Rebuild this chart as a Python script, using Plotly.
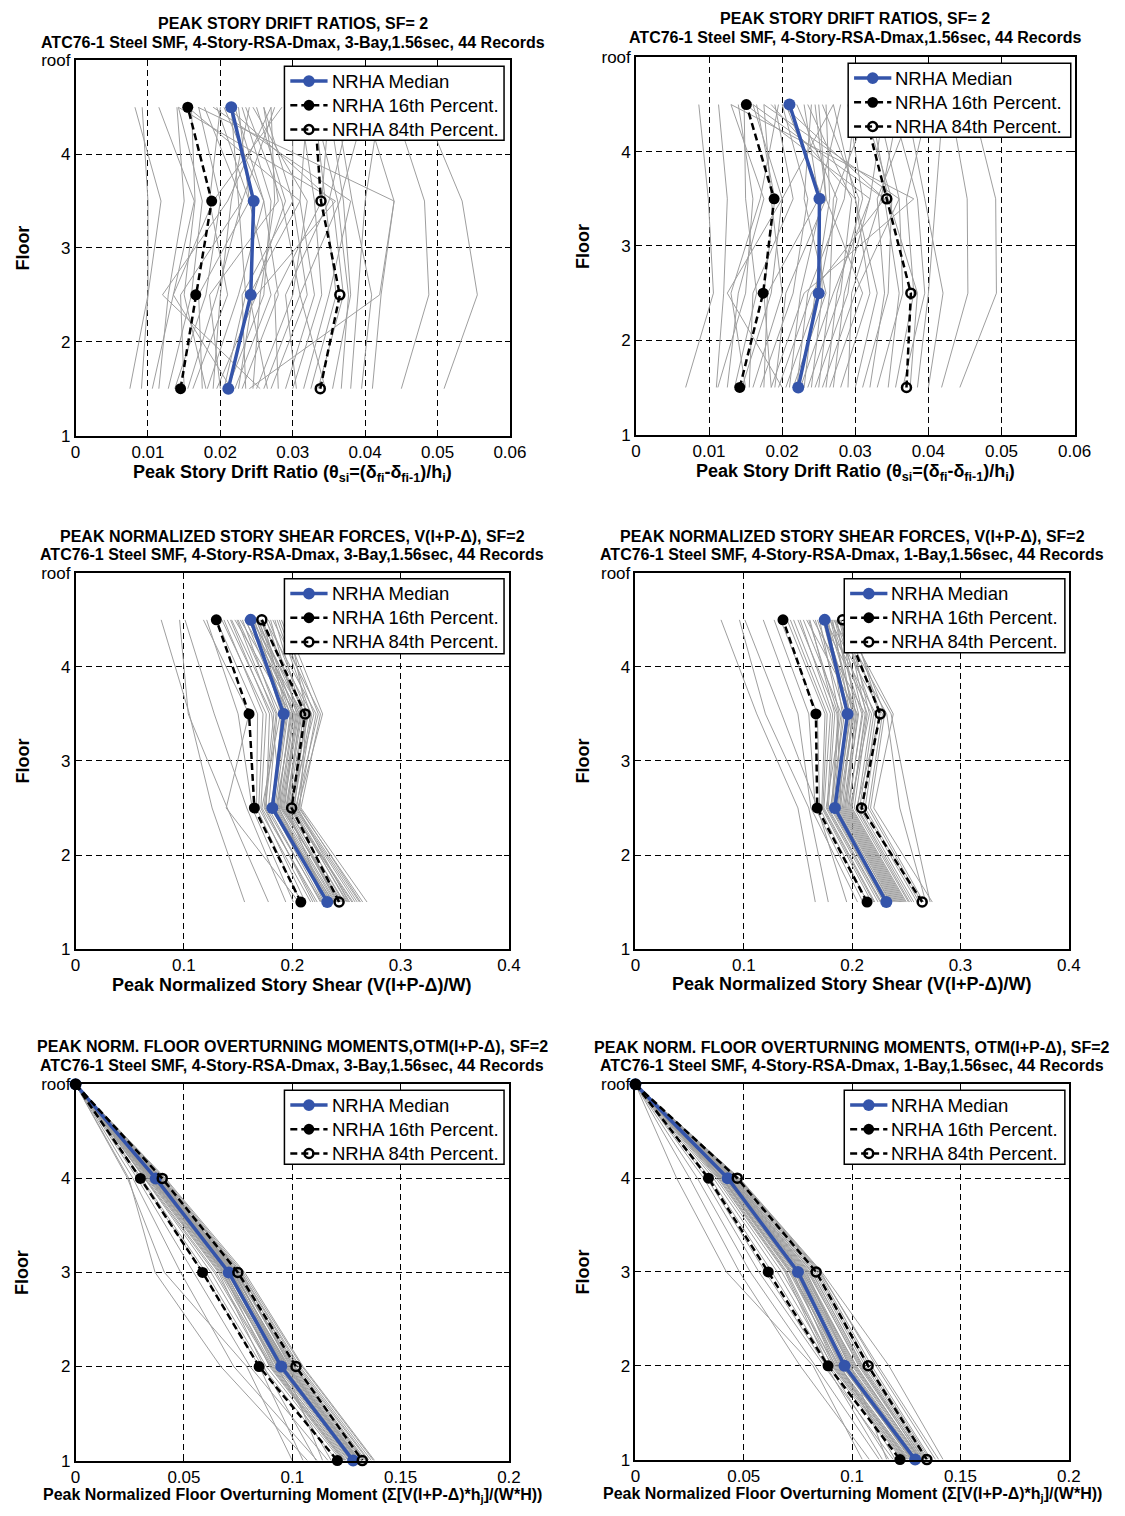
import plotly.graph_objects as go

W, H = 1125, 1516

# ---------------- data ----------------
STORY_MID = [1.5, 2.5, 3.5, 4.5]          # story drift / shear plotted at mid-story
FLOOR_LEVEL = [5, 4, 3, 2, 1]              # overturning moment at floor levels (5 = roof)
FLOOR_TICKS = [1, 2, 3, 4, 5]
FLOOR_LABELS = ["1", "2", "3", "4", "roof"]
SERIES_NAMES = ["NRHA Median", "NRHA 16th Percent.", "NRHA 84th Percent."]

# Peak story drift ratios, 3-bay frame (story 1..4)
drift_3bay_records = [
    [0.0075, 0.0100, 0.0118, 0.0082], [0.0091, 0.0100, 0.0100, 0.0092],
    [0.0106, 0.0135, 0.0164, 0.0115], [0.0115, 0.0128, 0.0150, 0.0140],
    [0.0128, 0.0160, 0.0175, 0.0142], [0.0137, 0.0180, 0.0200, 0.0170],
    [0.0150, 0.0145, 0.0230, 0.0275], [0.0155, 0.0195, 0.0230, 0.0178],
    [0.0162, 0.0210, 0.0185, 0.0200], [0.0175, 0.0170, 0.0240, 0.0225],
    [0.0182, 0.0225, 0.0260, 0.0205], [0.0190, 0.0200, 0.0215, 0.0240],
    [0.0195, 0.0250, 0.0359, 0.0142], [0.0200, 0.0185, 0.0280, 0.0260],
    [0.0205, 0.0235, 0.0225, 0.0215], [0.0210, 0.0260, 0.0270, 0.0230],
    [0.0215, 0.0135, 0.0190, 0.0285], [0.0220, 0.0270, 0.0240, 0.0195],
    [0.0225, 0.0245, 0.0290, 0.0250], [0.0230, 0.0280, 0.0260, 0.0220],
    [0.0235, 0.0230, 0.0300, 0.0300], [0.0240, 0.0420, 0.0440, 0.0169],
    [0.0245, 0.0255, 0.0275, 0.0270], [0.0250, 0.0300, 0.0320, 0.0245],
    [0.0255, 0.0120, 0.0210, 0.0270], [0.0260, 0.0310, 0.0285, 0.0235],
    [0.0265, 0.0240, 0.0310, 0.0320], [0.0270, 0.0320, 0.0300, 0.0260],
    [0.0280, 0.0275, 0.0340, 0.0350], [0.0290, 0.0330, 0.0310, 0.0155],
    [0.0300, 0.0340, 0.0330, 0.0310], [0.0305, 0.0290, 0.0350, 0.0380],
    [0.0315, 0.0350, 0.0380, 0.0190], [0.0325, 0.0360, 0.0345, 0.0330],
    [0.0335, 0.0370, 0.0355, 0.0210], [0.0345, 0.0310, 0.0365, 0.0400],
    [0.0355, 0.0380, 0.0370, 0.0350], [0.0367, 0.0377, 0.0362, 0.0330],
    [0.0380, 0.0390, 0.0400, 0.0420], [0.0395, 0.0409, 0.0382, 0.0360],
    [0.0410, 0.0422, 0.0440, 0.0400], [0.0450, 0.0488, 0.0482, 0.0440],
    [0.0509, 0.0555, 0.0534, 0.0480], [0.0180, 0.0150, 0.0165, 0.0160],
]
drift_3bay_median = [0.0211, 0.0242, 0.0246, 0.0215]
drift_3bay_p16 = [0.0145, 0.0166, 0.0188, 0.0155]
drift_3bay_p84 = [0.0338, 0.0365, 0.0339, 0.0330]

# Peak story drift ratios, 1-bay frame
drift_1bay_records = [
    [0.0068, 0.0106, 0.0099, 0.0086], [0.0110, 0.0120, 0.0125, 0.0113],
    [0.0112, 0.0150, 0.0160, 0.0140], [0.0125, 0.0140, 0.0175, 0.0130],
    [0.0135, 0.0165, 0.0150, 0.0148], [0.0145, 0.0185, 0.0200, 0.0160],
    [0.0155, 0.0160, 0.0215, 0.0190], [0.0160, 0.0200, 0.0185, 0.0175],
    [0.0170, 0.0215, 0.0235, 0.0200], [0.0175, 0.0180, 0.0250, 0.0230],
    [0.0185, 0.0230, 0.0380, 0.0130], [0.0190, 0.0205, 0.0260, 0.0250],
    [0.0195, 0.0240, 0.0340, 0.0160], [0.0200, 0.0125, 0.0200, 0.0270],
    [0.0205, 0.0250, 0.0275, 0.0220], [0.0210, 0.0225, 0.0255, 0.0205],
    [0.0215, 0.0260, 0.0230, 0.0240], [0.0220, 0.0235, 0.0285, 0.0300],
    [0.0225, 0.0270, 0.0320, 0.0150], [0.0230, 0.0245, 0.0265, 0.0260],
    [0.0235, 0.0280, 0.0295, 0.0235], [0.0240, 0.0255, 0.0250, 0.0280],
    [0.0245, 0.0290, 0.0305, 0.0255], [0.0250, 0.0265, 0.0270, 0.0320],
    [0.0255, 0.0300, 0.0360, 0.0175], [0.0260, 0.0275, 0.0310, 0.0290],
    [0.0265, 0.0310, 0.0260, 0.0245], [0.0270, 0.0285, 0.0320, 0.0340],
    [0.0280, 0.0320, 0.0300, 0.0270], [0.0290, 0.0295, 0.0335, 0.0360],
    [0.0300, 0.0330, 0.0300, 0.0185], [0.0310, 0.0345, 0.0350, 0.0310],
    [0.0320, 0.0340, 0.0330, 0.0380], [0.0330, 0.0365, 0.0360, 0.0330],
    [0.0345, 0.0360, 0.0340, 0.0200], [0.0355, 0.0380, 0.0370, 0.0400],
    [0.0365, 0.0395, 0.0385, 0.0350], [0.0375, 0.0385, 0.0345, 0.0320],
    [0.0385, 0.0400, 0.0410, 0.0420], [0.0400, 0.0420, 0.0395, 0.0370],
    [0.0418, 0.0454, 0.0453, 0.0430], [0.0443, 0.0493, 0.0492, 0.0460],
    [0.0150, 0.0130, 0.0170, 0.0195], [0.0185, 0.0175, 0.0190, 0.0165],
]
drift_1bay_median = [0.0222, 0.0250, 0.0251, 0.0210]
drift_1bay_p16 = [0.0142, 0.0174, 0.0189, 0.0151]
drift_1bay_p84 = [0.0370, 0.0376, 0.0343, 0.0310]

# Peak normalized story shear, 3-bay frame
shear_3bay_records = [
    [0.156, 0.126, 0.105, 0.079], [0.178, 0.140, 0.104, 0.096],
    [0.194, 0.158, 0.128, 0.101], [0.206, 0.139, 0.160, 0.118],
    [0.201, 0.163, 0.150, 0.121], [0.208, 0.167, 0.168, 0.130],
    [0.212, 0.171, 0.176, 0.135], [0.246, 0.190, 0.181, 0.140],
    [0.219, 0.175, 0.185, 0.144], [0.237, 0.186, 0.199, 0.147],
    [0.223, 0.172, 0.189, 0.150], [0.241, 0.193, 0.203, 0.152],
    [0.226, 0.178, 0.186, 0.154], [0.231, 0.195, 0.207, 0.156],
    [0.228, 0.181, 0.193, 0.157], [0.250, 0.200, 0.210, 0.159],
    [0.234, 0.184, 0.196, 0.160], [0.229, 0.188, 0.201, 0.161],
    [0.255, 0.197, 0.215, 0.162], [0.236, 0.183, 0.190, 0.163],
    [0.243, 0.191, 0.205, 0.164], [0.233, 0.180, 0.194, 0.165],
    [0.258, 0.202, 0.212, 0.166], [0.239, 0.187, 0.198, 0.167],
    [0.244, 0.194, 0.208, 0.168], [0.235, 0.185, 0.200, 0.169],
    [0.262, 0.204, 0.218, 0.170], [0.240, 0.189, 0.202, 0.171],
    [0.247, 0.196, 0.211, 0.172], [0.238, 0.182, 0.195, 0.173],
    [0.265, 0.206, 0.222, 0.175], [0.242, 0.192, 0.206, 0.176],
    [0.251, 0.199, 0.214, 0.178], [0.245, 0.190, 0.204, 0.180],
    [0.269, 0.208, 0.226, 0.182], [0.248, 0.195, 0.209, 0.184],
    [0.253, 0.201, 0.217, 0.186], [0.256, 0.198, 0.220, 0.188],
    [0.260, 0.203, 0.224, 0.190], [0.252, 0.205, 0.228, 0.193],
    [0.263, 0.207, 0.213, 0.196], [0.227, 0.176, 0.179, 0.143],
    [0.217, 0.169, 0.173, 0.137], [0.221, 0.174, 0.183, 0.149],
]
shear_3bay_median = [0.2323, 0.1816, 0.1921, 0.1616]
shear_3bay_p16 = [0.2079, 0.1650, 0.1601, 0.1299]
shear_3bay_p84 = [0.2432, 0.1994, 0.2118, 0.1719]

# Peak normalized story shear, 1-bay frame
shear_1bay_records = [
    [0.166, 0.150, 0.112, 0.079], [0.178, 0.160, 0.120, 0.096],
    [0.195, 0.168, 0.135, 0.101], [0.205, 0.162, 0.150, 0.118],
    [0.210, 0.166, 0.160, 0.128], [0.214, 0.170, 0.168, 0.134],
    [0.218, 0.172, 0.175, 0.140], [0.221, 0.174, 0.180, 0.146],
    [0.240, 0.190, 0.186, 0.150], [0.224, 0.176, 0.190, 0.155],
    [0.245, 0.195, 0.205, 0.158], [0.227, 0.178, 0.184, 0.161],
    [0.250, 0.200, 0.212, 0.164], [0.229, 0.180, 0.193, 0.166],
    [0.235, 0.186, 0.199, 0.168], [0.231, 0.182, 0.188, 0.170],
    [0.255, 0.205, 0.218, 0.172], [0.233, 0.184, 0.195, 0.173],
    [0.238, 0.188, 0.201, 0.174], [0.260, 0.210, 0.222, 0.175],
    [0.236, 0.185, 0.197, 0.176], [0.242, 0.192, 0.204, 0.177],
    [0.234, 0.183, 0.191, 0.178], [0.264, 0.215, 0.228, 0.179],
    [0.239, 0.189, 0.202, 0.180], [0.247, 0.197, 0.209, 0.181],
    [0.237, 0.187, 0.198, 0.182], [0.268, 0.244, 0.232, 0.183],
    [0.243, 0.193, 0.206, 0.184], [0.252, 0.202, 0.214, 0.185],
    [0.241, 0.191, 0.200, 0.186], [0.272, 0.253, 0.236, 0.187],
    [0.246, 0.196, 0.210, 0.188], [0.257, 0.207, 0.220, 0.189],
    [0.244, 0.194, 0.203, 0.190], [0.274, 0.220, 0.238, 0.192],
    [0.249, 0.199, 0.213, 0.193], [0.262, 0.212, 0.225, 0.194],
    [0.248, 0.198, 0.216, 0.195], [0.266, 0.217, 0.230, 0.197],
    [0.253, 0.204, 0.226, 0.199], [0.230, 0.181, 0.187, 0.160],
    [0.226, 0.177, 0.182, 0.152], [0.220, 0.173, 0.177, 0.143],
]
shear_1bay_median = [0.2316, 0.1841, 0.1958, 0.1747]
shear_1bay_p16 = [0.2138, 0.1678, 0.1666, 0.1362]
shear_1bay_p84 = [0.2647, 0.2087, 0.2259, 0.1913]

# Peak normalized floor overturning moment, 3-bay frame (roof, floor 4..1)
otm_3bay_records = [
    [0, 0.0246, 0.0367, 0.0670, 0.1070], [0, 0.0240, 0.0410, 0.0790, 0.1000],
    [0, 0.0265, 0.0485, 0.0730, 0.1115], [0, 0.0285, 0.0545, 0.0805, 0.1165],
    [0, 0.0298, 0.0588, 0.0848, 0.1050], [0, 0.0305, 0.0602, 0.0862, 0.1205],
    [0, 0.0318, 0.0625, 0.0880, 0.1225], [0, 0.0380, 0.0735, 0.0975, 0.1300],
    [0, 0.0326, 0.0648, 0.0905, 0.1240], [0, 0.0392, 0.0745, 0.1005, 0.1335],
    [0, 0.0331, 0.0660, 0.0868, 0.1110], [0, 0.0364, 0.0712, 0.0958, 0.1288],
    [0, 0.0342, 0.0676, 0.0928, 0.1262], [0, 0.0400, 0.0752, 0.1020, 0.1350],
    [0, 0.0348, 0.0688, 0.0940, 0.1275], [0, 0.0372, 0.0722, 0.0962, 0.1292],
    [0, 0.0355, 0.0694, 0.0915, 0.1258], [0, 0.0386, 0.0740, 0.0995, 0.1318],
    [0, 0.0360, 0.0705, 0.0950, 0.1282], [0, 0.0405, 0.0765, 0.1035, 0.1365],
    [0, 0.0368, 0.0716, 0.0946, 0.1270], [0, 0.0352, 0.0680, 0.0895, 0.1232],
    [0, 0.0376, 0.0728, 0.0982, 0.1305], [0, 0.0395, 0.0758, 0.1012, 0.1340],
    [0, 0.0338, 0.0670, 0.0935, 0.1268], [0, 0.0382, 0.0732, 0.0968, 0.1296],
    [0, 0.0358, 0.0700, 0.0955, 0.1285], [0, 0.0410, 0.0772, 0.1045, 0.1375],
    [0, 0.0345, 0.0684, 0.0920, 0.1250], [0, 0.0370, 0.0718, 0.0972, 0.1302],
    [0, 0.0388, 0.0748, 0.0990, 0.1312], [0, 0.0362, 0.0708, 0.0938, 0.1278],
    [0, 0.0374, 0.0725, 0.0985, 0.1310], [0, 0.0398, 0.0762, 0.1028, 0.1355],
    [0, 0.0350, 0.0690, 0.0930, 0.1180], [0, 0.0366, 0.0714, 0.0960, 0.1290],
    [0, 0.0384, 0.0738, 0.1000, 0.1325], [0, 0.0415, 0.0780, 0.1050, 0.1380],
    [0, 0.0335, 0.0665, 0.0910, 0.1245], [0, 0.0378, 0.0730, 0.0978, 0.1308],
    [0, 0.0357, 0.0698, 0.0944, 0.1272], [0, 0.0390, 0.0742, 0.1008, 0.1330],
    [0, 0.0322, 0.0640, 0.0900, 0.1238], [0, 0.0369, 0.0720, 0.0965, 0.1140],
]
otm_3bay_median = [0, 0.0370, 0.0707, 0.0949, 0.1281]
otm_3bay_p16 = [0, 0.0299, 0.0586, 0.0847, 0.1208]
otm_3bay_p84 = [0, 0.0400, 0.0749, 0.1017, 0.1323]

# Peak normalized floor overturning moment, 1-bay frame
otm_1bay_records = [
    [0, 0.0190, 0.0420, 0.0820, 0.1047], [0, 0.0250, 0.0480, 0.0760, 0.1080],
    [0, 0.0286, 0.0530, 0.0830, 0.1125], [0, 0.0315, 0.0570, 0.0870, 0.1190],
    [0, 0.0330, 0.0600, 0.0880, 0.1140], [0, 0.0345, 0.0630, 0.0895, 0.1230],
    [0, 0.0360, 0.0655, 0.0910, 0.1245], [0, 0.0455, 0.0815, 0.1045, 0.1330],
    [0, 0.0372, 0.0675, 0.0925, 0.1255], [0, 0.0465, 0.0830, 0.1070, 0.1350],
    [0, 0.0380, 0.0690, 0.0890, 0.1170], [0, 0.0430, 0.0760, 0.0990, 0.1300],
    [0, 0.0395, 0.0710, 0.0940, 0.1265], [0, 0.0472, 0.0845, 0.1090, 0.1365],
    [0, 0.0402, 0.0722, 0.0955, 0.1275], [0, 0.0438, 0.0775, 0.1005, 0.1310],
    [0, 0.0410, 0.0735, 0.0935, 0.1260], [0, 0.0450, 0.0800, 0.1030, 0.1325],
    [0, 0.0418, 0.0742, 0.0960, 0.1285], [0, 0.0478, 0.0855, 0.1110, 0.1385],
    [0, 0.0425, 0.0748, 0.0950, 0.1280], [0, 0.0405, 0.0728, 0.0920, 0.1250],
    [0, 0.0442, 0.0785, 0.1015, 0.1315], [0, 0.0462, 0.0822, 0.1060, 0.1345],
    [0, 0.0398, 0.0715, 0.0965, 0.1270], [0, 0.0446, 0.0790, 0.0985, 0.1295],
    [0, 0.0420, 0.0745, 0.0975, 0.1290], [0, 0.0480, 0.0860, 0.1170, 0.1420],
    [0, 0.0400, 0.0718, 0.0930, 0.1255], [0, 0.0434, 0.0768, 0.1000, 0.1305],
    [0, 0.0452, 0.0805, 0.1040, 0.1320], [0, 0.0422, 0.0752, 0.0970, 0.1288],
    [0, 0.0436, 0.0772, 0.1020, 0.1312], [0, 0.0468, 0.0838, 0.1080, 0.1358],
    [0, 0.0412, 0.0738, 0.0945, 0.1200], [0, 0.0428, 0.0758, 0.0980, 0.1298],
    [0, 0.0448, 0.0795, 0.1035, 0.1335], [0, 0.0475, 0.0850, 0.1120, 0.1400],
    [0, 0.0390, 0.0700, 0.0915, 0.1240], [0, 0.0440, 0.0780, 0.1010, 0.1318],
    [0, 0.0415, 0.0740, 0.0958, 0.1278], [0, 0.0458, 0.0812, 0.1050, 0.1340],
    [0, 0.0385, 0.0695, 0.0905, 0.1235], [0, 0.0432, 0.0765, 0.0995, 0.1160],
]
otm_1bay_median = [0, 0.0426, 0.0750, 0.0965, 0.1291]
otm_1bay_p16 = [0, 0.0337, 0.0613, 0.0889, 0.1221]
otm_1bay_p84 = [0, 0.0470, 0.0834, 0.1074, 0.1345]

# ---------------- styling ----------------
FONT = "Liberation Sans, Arial, Helvetica, sans-serif"
GRAY = "rgb(158,158,158)"
BLUE = "rgb(52,84,170)"
LINE_DASH = "7px,4px"

TITLE_DRIFT = "PEAK STORY DRIFT RATIOS, SF= 2"
TITLE_SHEAR = "PEAK NORMALIZED STORY SHEAR FORCES, V(I+P-\u0394), SF=2"
TITLE_OTM_3 = "PEAK NORM. FLOOR OVERTURNING MOMENTS,OTM(I+P-\u0394), SF=2"
TITLE_OTM_1 = "PEAK NORM. FLOOR OVERTURNING MOMENTS, OTM(I+P-\u0394), SF=2"
SUB_3BAY = "ATC76-1 Steel SMF, 4-Story-RSA-Dmax, 3-Bay,1.56sec, 44 Records"
SUB_1BAY_A = "ATC76-1 Steel SMF, 4-Story-RSA-Dmax,1.56sec, 44 Records"
SUB_1BAY = "ATC76-1 Steel SMF, 4-Story-RSA-Dmax, 1-Bay,1.56sec, 44 Records"
XT_DRIFT = ("Peak Story Drift Ratio (\u03b8<sub>si</sub>=(\u03b4<sub>fi</sub>-"
            "\u03b4<sub>fi-1</sub>)/h<sub>i</sub>)")
XT_SHEAR = "Peak Normalized Story Shear (V(I+P-\u0394)/W)"
XT_OTM = "Peak Normalized Floor Overturning Moment (\u03a3[V(I+P-\u0394)*h<sub>j</sub>]/(W*H))"

# panel pixel boxes: (left, right, top, bottom); legend box: (left, right, top, bottom)
panels = [
    dict(box=(72, 515, 52, 432), xr=0.06, dt=0.01, y=STORY_MID,
         rec=drift_3bay_records, med=drift_3bay_median, p16=drift_3bay_p16, p84=drift_3bay_p84,
         title=(TITLE_DRIFT, SUB_3BAY), ty=(15, 34), xt=XT_DRIFT, xty=470, xts=18,
         leg=(285, 509, 58, 133)),
    dict(box=(643.5, 1091, 49, 431), xr=0.06, dt=0.01, y=STORY_MID,
         rec=drift_1bay_records, med=drift_1bay_median, p16=drift_1bay_p16, p84=drift_1bay_p84,
         title=(TITLE_DRIFT, SUB_1BAY_A), ty=(10, 29), xt=XT_DRIFT, xty=469, xts=18,
         leg=(860, 1087, 55, 130)),
    dict(box=(72, 514, 571, 952), xr=0.4, dt=0.1, y=STORY_MID,
         rec=shear_3bay_records, med=shear_3bay_median, p16=shear_3bay_p16, p84=shear_3bay_p84,
         title=(TITLE_SHEAR, SUB_3BAY), ty=(534, 552), xt=XT_SHEAR, xty=988, xts=18,
         leg=(285, 509, 577, 653)),
    dict(box=(643, 1085, 571, 952), xr=0.4, dt=0.1, y=STORY_MID,
         rec=shear_1bay_records, med=shear_1bay_median, p16=shear_1bay_p16, p84=shear_1bay_p84,
         title=(TITLE_SHEAR, SUB_1BAY), ty=(534, 552), xt=XT_SHEAR, xty=987, xts=18,
         leg=(856, 1081, 577, 652)),
    dict(box=(72, 514, 1089, 1470), xr=0.2, dt=0.05, y=FLOOR_LEVEL,
         rec=otm_3bay_records, med=otm_3bay_median, p16=otm_3bay_p16, p84=otm_3bay_p84,
         title=(TITLE_OTM_3, SUB_3BAY), ty=(1051, 1070), xt=XT_OTM, xty=1505, xts=16,
         leg=(285, 509, 1095, 1170)),
    dict(box=(643, 1085, 1089, 1469), xr=0.2, dt=0.05, y=FLOOR_LEVEL,
         rec=otm_1bay_records, med=otm_1bay_median, p16=otm_1bay_p16, p84=otm_1bay_p84,
         title=(TITLE_OTM_1, SUB_1BAY), ty=(1052, 1070), xt=XT_OTM, xty=1504, xts=16,
         leg=(856, 1081, 1095, 1170)),
]


def px(v):
    return v / W


def py(v):
    return 1 - v / H


fig = go.Figure()
annotations, shapes = [], []
layout = dict(
    width=W, height=H, margin=dict(l=0, r=0, t=0, b=0),
    paper_bgcolor="white", plot_bgcolor="white",
    font=dict(family=FONT, color="black"),
    showlegend=False,
)

# legend entry styles: (line colour, width, dash, marker fill, marker line width, marker size)
LEG_STYLE = [
    (BLUE, 3.5, "solid", BLUE, 0, 12),
    ("black", 2.5, LINE_DASH, "black", 0, 11),
    ("black", 2.5, LINE_DASH, "rgba(0,0,0,0)", 2.5, 9),
]

for i, p in enumerate(panels, start=1):
    xa = "x" if i == 1 else f"x{i}"
    ya = "y" if i == 1 else f"y{i}"
    l, r, t, b = p["box"]

    # individual records as one multi-segment gray trace
    gx, gy = [], []
    for rec in p["rec"]:
        gx += list(rec) + [None]
        gy += list(p["y"]) + [None]
    fig.add_trace(go.Scatter(x=gx, y=gy, mode="lines", xaxis=xa, yaxis=ya,
                             line=dict(color=GRAY, width=1), hoverinfo="skip"))

    fig.add_trace(go.Scatter(x=p["med"], y=p["y"], mode="lines+markers", name=SERIES_NAMES[0],
                             xaxis=xa, yaxis=ya, cliponaxis=False,
                             line=dict(color=BLUE, width=3.5),
                             marker=dict(color=BLUE, size=12, symbol="circle")))
    fig.add_trace(go.Scatter(x=p["p16"], y=p["y"], mode="lines+markers", name=SERIES_NAMES[1],
                             xaxis=xa, yaxis=ya, cliponaxis=False,
                             line=dict(color="black", width=2.5, dash=LINE_DASH),
                             marker=dict(color="black", size=11, symbol="circle")))
    fig.add_trace(go.Scatter(x=p["p84"], y=p["y"], mode="lines+markers", name=SERIES_NAMES[2],
                             xaxis=xa, yaxis=ya, cliponaxis=False,
                             line=dict(color="black", width=2.5, dash=LINE_DASH),
                             marker=dict(color="black", size=9, symbol="circle-open",
                                         line=dict(width=2.5, color="black"))))

    ticks = [round(k * p["dt"], 4) for k in range(int(round(p["xr"] / p["dt"])) + 1)]
    ticktext = ["0"] + [f"{v:g}" for v in ticks[1:]]
    axis_common = dict(showline=True, linecolor="black", linewidth=1.5, mirror="ticks",
                       ticks="inside", ticklen=5, tickcolor="black", tickwidth=1,
                       showgrid=True, gridcolor="black", gridwidth=1, griddash="6px,4px",
                       zeroline=False, tickfont=dict(size=17, family=FONT, color="black"))
    layout["xaxis" if i == 1 else f"xaxis{i}"] = dict(
        domain=[px(l), px(r)], anchor=ya, range=[0, p["xr"]],
        tickmode="array", tickvals=ticks, ticktext=ticktext, **axis_common)
    layout["yaxis" if i == 1 else f"yaxis{i}"] = dict(
        domain=[py(b), py(t)], anchor=xa, range=[1, 5],
        tickmode="array", tickvals=FLOOR_TICKS, ticktext=FLOOR_LABELS, **axis_common)

    # legend box drawn over the plot area
    ll, lr, lt, lb = p["leg"]
    shapes.append(dict(type="rect", xref="paper", yref="paper", layer="above",
                       x0=px(ll), x1=px(lr), y0=py(lb), y1=py(lt),
                       fillcolor="white", line=dict(color="black", width=1.5)))
    for k, (name, st) in enumerate(zip(SERIES_NAMES, LEG_STYLE)):
        rowy = lt + 15 + k * 24.5
        lc, lw, ld, mf, mlw, ms = st
        shapes.append(dict(type="line", xref="paper", yref="paper", layer="above",
                           x0=px(ll + 6), x1=px(ll + 44), y0=py(rowy), y1=py(rowy),
                           line=dict(color=lc, width=lw, dash=ld)))
        hm = ms / 2
        shapes.append(dict(type="circle", xref="paper", yref="paper", layer="above",
                           x0=px(ll + 25 - hm), x1=px(ll + 25 + hm),
                           y0=py(rowy + hm), y1=py(rowy - hm),
                           fillcolor=mf, line=dict(color=lc, width=mlw)))
        annotations.append(dict(text=name, x=px(ll + 46), y=py(rowy), xref="paper", yref="paper",
                                xanchor="left", yanchor="middle", showarrow=False,
                                font=dict(size=18.5, family=FONT, color="black")))

    cx = (l + r) / 2
    t1, t2 = p["title"]
    annotations += [
        dict(text=f"<b>{t1}</b>", x=px(cx), y=py(p["ty"][0]), xref="paper", yref="paper",
             xanchor="center", yanchor="middle", showarrow=False,
             font=dict(size=16, family=FONT)),
        dict(text=f"<b>{t2}</b>", x=px(cx), y=py(p["ty"][1]), xref="paper", yref="paper",
             xanchor="center", yanchor="middle", showarrow=False,
             font=dict(size=16, family=FONT)),
        dict(text=f"<b>{p['xt']}</b>", x=px(cx), y=py(p["xty"]), xref="paper", yref="paper",
             xanchor="center", yanchor="middle", showarrow=False,
             font=dict(size=p["xts"], family=FONT)),
        dict(text="<b>Floor</b>", x=px(l - 54), y=py((t + b) / 2), xref="paper", yref="paper",
             xanchor="center", yanchor="middle", showarrow=False, textangle=-90,
             font=dict(size=18, family=FONT)),
    ]

layout["annotations"] = annotations
layout["shapes"] = shapes
fig.update_layout(**layout)
fig.write_html("out.html", post_script="document.body.style.margin='0px';")
